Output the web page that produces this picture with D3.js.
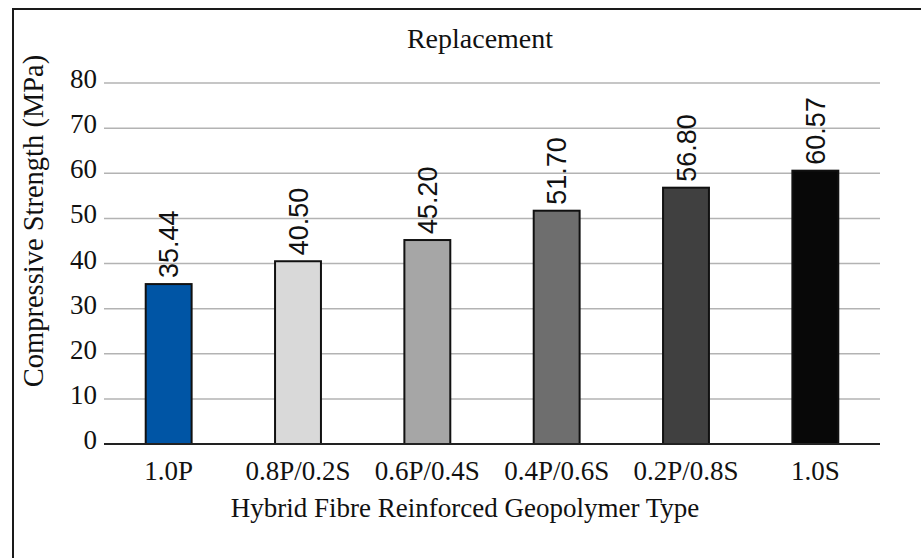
<!DOCTYPE html>
<html>
<head>
<meta charset="utf-8">
<script src="https://cdn.jsdelivr.net/npm/d3@7"></script>
<style>
  html, body { margin: 0; padding: 0; background: #fff; }
  svg { display: block; }
</style>
</head>
<body>
<svg id="chart" width="921" height="558"></svg>
<script>
// Compressive strength by hybrid fibre mix
const categories = ["1.0P", "0.8P/0.2S", "0.6P/0.4S", "0.4P/0.6S", "0.2P/0.8S", "1.0S"];
const strengths = [35.44, 40.50, 45.20, 51.70, 56.80, 60.57];
const valueLabels = ["35.44", "40.50", "45.20", "51.70", "56.80", "60.57"];
const barColors = ["#0055a5", "#d9d9d9", "#a6a6a6", "#6e6e6e", "#404040", "#080808"];
const yTicks = [0, 10, 20, 30, 40, 50, 60, 70, 80];

const titleText = "Replacement";
const xTitle = "Hybrid Fibre Reinforced Geopolymer Type";
const yTitle = "Compressive Strength (MPa)";

const svg = d3.select("#chart");
const serif = "'Liberation Serif', 'Times New Roman', serif";
const sans = "'Liberation Sans', Arial, sans-serif";

const plot = { left: 104, right: 880, top: 83, bottom: 444 };

// Outer frame (runs off the right and bottom edges)
svg.append("rect")
  .attr("x", 13).attr("y", 9)
  .attr("width", 940).attr("height", 580)
  .attr("fill", "none")
  .attr("stroke", "#1a1a1a")
  .attr("stroke-width", 2);

const x = d3.scaleBand()
  .domain(categories)
  .range([plot.left, plot.right])
  .paddingInner(0.645)
  .paddingOuter(0.3225);

const y = d3.scaleLinear()
  .domain([0, 80])
  .range([plot.bottom, plot.top]);

// Horizontal gridlines
svg.append("g")
  .selectAll("line")
  .data(yTicks.filter(t => t > 0))
  .join("line")
  .attr("x1", plot.left).attr("x2", plot.right)
  .attr("y1", d => y(d)).attr("y2", d => y(d))
  .attr("stroke", "#b3b3b3")
  .attr("stroke-width", 1.5);

// Y axis tick labels
svg.append("g")
  .selectAll("text")
  .data(yTicks)
  .join("text")
  .attr("x", plot.left - 7)
  .attr("y", d => y(d) + 5)
  .attr("text-anchor", "end")
  .attr("font-family", serif)
  .attr("font-size", 27)
  .attr("fill", "#111")
  .text(d => d);

// Bars
svg.append("g")
  .selectAll("rect")
  .data(categories)
  .join("rect")
  .attr("x", d => x(d))
  .attr("width", x.bandwidth())
  .attr("y", (d, i) => y(strengths[i]))
  .attr("height", (d, i) => y(0) - y(strengths[i]))
  .attr("fill", (d, i) => barColors[i])
  .attr("stroke", "#111")
  .attr("stroke-width", 2);

// Baseline
svg.append("line")
  .attr("x1", plot.left).attr("x2", plot.right)
  .attr("y1", y(0)).attr("y2", y(0))
  .attr("stroke", "#222")
  .attr("stroke-width", 2);

// Value labels, rotated above each bar
svg.append("g")
  .selectAll("text")
  .data(categories)
  .join("text")
  .attr("transform", (d, i) => `translate(${x(d) + x.bandwidth() / 2},${y(strengths[i]) - 6}) rotate(-90)`)
  .attr("dy", "0.36em")
  .attr("text-anchor", "start")
  .attr("font-family", sans)
  .attr("font-size", 27)
  .attr("fill", "#111")
  .text((d, i) => valueLabels[i]);

// Category labels
svg.append("g")
  .selectAll("text")
  .data(categories)
  .join("text")
  .attr("x", d => x(d) + x.bandwidth() / 2)
  .attr("y", 480)
  .attr("text-anchor", "middle")
  .attr("font-family", serif)
  .attr("font-size", 27)
  .attr("fill", "#111")
  .text(d => d);

// Chart title
svg.append("text")
  .attr("x", 480).attr("y", 48)
  .attr("text-anchor", "middle")
  .attr("font-family", serif)
  .attr("font-size", 28)
  .attr("fill", "#111")
  .text(titleText);

// Axis titles
svg.append("text")
  .attr("x", 465).attr("y", 517)
  .attr("text-anchor", "middle")
  .attr("font-family", serif)
  .attr("font-size", 27)
  .attr("fill", "#111")
  .text(xTitle);

svg.append("text")
  .attr("transform", "translate(43,221) rotate(-90)")
  .attr("text-anchor", "middle")
  .attr("font-family", serif)
  .attr("font-size", 28.5)
  .attr("fill", "#111")
  .text(yTitle);
</script>
</body>
</html>
